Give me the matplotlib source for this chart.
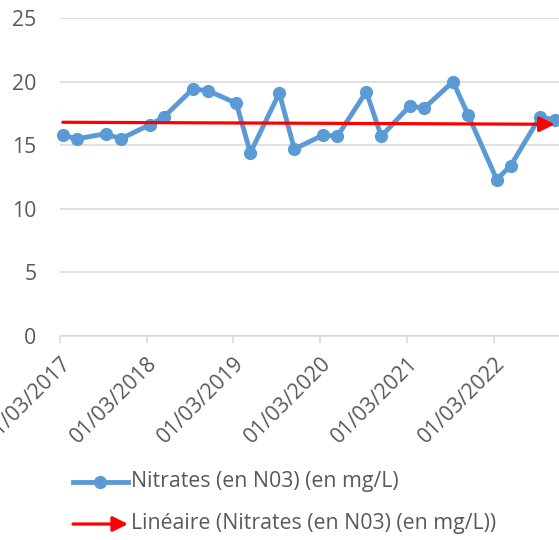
import numpy as np
import pandas as pd
import matplotlib
matplotlib.use("Agg")
import matplotlib.pyplot as plt
import matplotlib.dates as mdates
from matplotlib.lines import Line2D
from matplotlib.patches import FancyArrowPatch

# Sampling dates (around mid-March, May, September, November each year)
dates = pd.to_datetime([
    "2017-03-13", "2017-05-11", "2017-09-10", "2017-11-12",
    "2018-03-13", "2018-05-11", "2018-09-10", "2018-11-12",
    "2019-03-13", "2019-05-11", "2019-09-10", "2019-11-12",
    "2020-03-13", "2020-05-11", "2020-09-10", "2020-11-12",
    "2021-03-13", "2021-05-11", "2021-09-10", "2021-11-12",
    "2022-03-13", "2022-05-11", "2022-09-10", "2022-11-12",
])
nitrates = [15.8, 15.5, 15.9, 15.5, 16.6, 17.2, 19.4, 19.3,
            18.3, 14.4, 19.1, 14.7, 15.8, 15.7, 19.2, 15.7,
            18.1, 17.9, 20.0, 17.4, 12.3, 13.4, 17.2, 17.0]
tick_dates = pd.to_datetime(["2017-03-01", "2018-03-01", "2019-03-01",
                             "2020-03-01", "2021-03-01", "2022-03-01"])
y_ticks = [0, 5, 10, 15, 20, 25]

label_series = "Nitrates (en N03) (en mg/L)"
label_trend = "Linéaire (Nitrates (en N03) (en mg/L))"

blue = "#5B9BD5"
red = "#FF0000"
grey_txt = "#595959"
grid_col = "#D9D9D9"
fs = 15.3

plt.rcParams['font.family'] = ['Open Sans', 'DejaVu Sans']

fig = plt.figure(figsize=(5.59, 5.40), dpi=100)
ax = fig.add_axes([60 / 559, 204 / 540, 1 - 60 / 559, 318 / 540])

x_num = mdates.date2num(dates)
ax.plot(x_num, nitrates, color=blue, linewidth=3.5, marker='o',
        markersize=8.5, zorder=3, clip_on=False)

# linear trendline (least squares), drawn as an arrow
slope, intercept = np.polyfit(x_num, nitrates, 1)
x0, x1 = x_num[0], x_num[-1]
ax.annotate("", xy=(x1, slope * x1 + intercept), xytext=(x0, slope * x0 + intercept),
            arrowprops=dict(arrowstyle="-|>,head_length=0.9,head_width=0.45",
                            color=red, lw=2.3, shrinkA=0, shrinkB=0),
            zorder=4, annotation_clip=False)

ax.set_ylim(0, 25)
ax.set_yticks(y_ticks)
ax.set_xlim(mdates.date2num(pd.Timestamp("2017-03-01")),
            mdates.date2num(pd.Timestamp("2022-11-30")))
ax.set_xticks(mdates.date2num(tick_dates))
ax.set_xticklabels([d.strftime("%d/%m/%Y") for d in tick_dates],
                   rotation=45, ha='right', rotation_mode='anchor')

ax.grid(axis='y', color=grid_col, linewidth=1.1)
ax.set_axisbelow(True)
for s in ['top', 'right', 'left']:
    ax.spines[s].set_visible(False)
ax.spines['bottom'].set_color(grid_col)
ax.spines['bottom'].set_linewidth(1.1)
ax.tick_params(axis='y', length=0, pad=17, labelsize=fs, labelcolor=grey_txt)
ax.tick_params(axis='x', length=5, width=1.1, color=grid_col, direction='out',
               labelsize=fs, labelcolor=grey_txt, pad=7)

# legend drawn below the plot
fig.add_artist(Line2D([73 / 559, 128 / 559], [1 - 482 / 540, 1 - 482 / 540],
                      color=blue, linewidth=3.5))
fig.add_artist(Line2D([100 / 559], [1 - 482 / 540], color=blue, marker='o',
                      markersize=8.5))
fig.text(131 / 559, 1 - 482 / 540, label_series, fontsize=fs, color=grey_txt,
         va='center', ha='left')
fig.add_artist(FancyArrowPatch(
    (73 / 559, 1 - 524 / 540), (128 / 559, 1 - 524 / 540),
    transform=fig.transFigure, arrowstyle="-|>,head_length=0.9,head_width=0.45",
    color=red, lw=2.3, shrinkA=0, shrinkB=0, mutation_scale=10))
fig.text(131 / 559, 1 - 524 / 540, label_trend, fontsize=fs, color=grey_txt,
         va='center', ha='left')

fig.savefig("out.png", dpi=100)
